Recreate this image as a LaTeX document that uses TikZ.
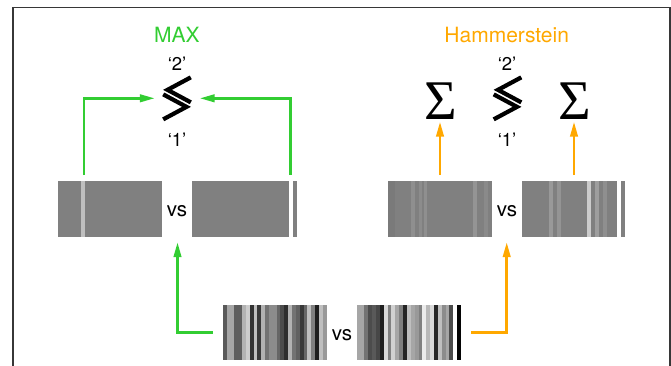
\documentclass[tikz,border=0pt]{standalone}
\usepackage{fontspec}
\setmainfont{TeX Gyre Heros}
\newfontfamily\sigmafont{Liberation Serif}
\usetikzlibrary{arrows.meta}

\definecolor{maxgreen}{RGB}{50,205,50}
\definecolor{hamorange}{RGB}{255,168,0}
\definecolor{framegray}{RGB}{55,55,55}

% Barcode strip: #1 left, #2 top, #3 height, #4 unit width, #5 list of black-percent/units
\newcommand\barcode[5]{%
  \pgfmathsetmacro\bcx{#1}%
  \foreach \k/\u in {#5}{%
    \pgfmathsetmacro\bcn{\bcx+\u*#4}%
    \fill[black!\k] (\bcx,#2) rectangle (\bcn,#2+#3);%
    \global\let\bcx\bcn
  }%
}

\begin{document}
\begin{tikzpicture}[x=1pt,y=-1pt,
  title/.style={inner sep=0pt, anchor=base, font=\fontsize{21}{25}\selectfont},
  quote/.style={inner sep=0pt, anchor=base, font=\fontsize{18.5}{22}\selectfont},
  vslbl/.style={inner sep=0pt, anchor=base, font=\fontsize{20.5}{24}\selectfont},
  sigma/.style={inner sep=0pt, anchor=base, font=\sigmafont\fontsize{56}{60}\selectfont},
  slot/.style={inner sep=0pt, minimum width=#1},
  cmpbox/.style={inner sep=0pt, minimum width=29pt, minimum height=47pt},
  conn/.style={line width=2.6pt, line join=miter,
    -{Triangle[length=15pt,width=7.5pt]}},
  gconn/.style={conn, draw=maxgreen},
  oconn/.style={conn, draw=hamorange},
  lessgtr/.pic={
    \draw[line width=4.2pt, line join=miter, miter limit=10]
      (13.8,-20.95) -- (-9.5,-8.45) -- (13.8,4.05);
    \draw[line width=4.2pt, line join=miter, miter limit=10]
      (-13.8,-3.95) -- (9.5,8.55) -- (-13.8,21.05);
  }]
\useasboundingbox (0,0) rectangle (671,365);

% frame
\draw[framegray, line width=1.3pt, line join=miter]
  (13,367) -- (13,7.5) -- (670,7.5) -- (670,367);

% ---------- MAX branch ----------
\node[title, text=maxgreen] (maxlbl) at (177,42.7) {MAX};
\node[quote] (twoL) at (177,70) {‘2’};
\node[cmpbox] (cmpL) at (177,98.3) {};
\pic at (cmpL) {lessgtr};
\node[quote] (oneL) at (177,146) {‘1’};

% max-pooled pair
\node[slot=239pt, minimum height=56pt] (pL) at (177.5,209) {};
\fill[black!50] (58,181) rectangle (162,237);
\fill[black!25] (81,181) rectangle (85,237);
\fill[black!50] (192,181) rectangle (289,237);
\fill[black!50] (293,181) rectangle (296.7,237);
\node[vslbl] (vsL) at (177,216.7) {vs};

\coordinate (gA) at (84,175);
\coordinate (gB) at (290.5,175);
\draw[gconn, shorten >=7.5pt] (gA) |- (cmpL.west);
\draw[gconn, shorten >=8pt] (gB) |- (cmpL.east);

% ---------- Hammerstein branch ----------
\node[title, text=hamorange] (hamlbl) at (506.7,42.7) {Hammerstein};
\node[quote] (twoR) at (507,70) {‘2’};
\node[cmpbox] (cmpR) at (507.5,98.3) {};
\pic at (cmpR) {lessgtr};
\node[quote] (oneR) at (507,146) {‘1’};
\node[sigma] (sigL) at (440.5,119) {Σ};
\node[sigma] (sigR) at (574.4,119) {Σ};

% summed pair
\node[slot=238pt, minimum height=56pt] (pR) at (506.7,209) {};
\fill[black!50] (387.7,181) rectangle (491.7,237);
\fill[black!52] (387.7,181) rectangle (395,237);
\fill[black!44] (411,181) rectangle (415,237);
\fill[black!45] (419,181) rectangle (421.7,237);
\fill[black!44] (424.3,181) rectangle (427,237);
\fill[black!42] (473.3,181) rectangle (477,237);
\fill[black!46] (484,181) rectangle (487.7,237);
\fill[black!50] (522,181) rectangle (617.3,237);
\fill[black!40] (548.7,181) rectangle (552.7,237);
\fill[black!42] (556.7,181) rectangle (560.7,237);
\fill[black!20] (586.7,181) rectangle (590.7,237);
\fill[black!38] (594.7,181) rectangle (598.7,237);
\fill[black!44] (602.7,181) rectangle (606.7,237);
\fill[black!50] (621.3,181) rectangle (624.7,237);
\node[vslbl] (vsR) at (507,216.7) {vs};

\coordinate (oA) at (440,175);
\coordinate (oB) at (574,175);
\draw[oconn, shorten >=2.5pt] (oA) -- (oA |- sigL.south);
\draw[oconn, shorten >=2.5pt] (oB) -- (oB |- sigR.south);

% ---------- raw input pair ----------
\node[slot=238.3pt, minimum height=55pt] (pB) at (341.85,332.5) {};
\barcode{222.7}{305}{55}{3.852}{65/1,35/2,63/2,30/1,20/1,80/1,25/1,78/1,30/1,55/1,45/2,60/1,70/1,82/1,30/1,55/1,62/1,78/1,60/1,25/1,50/1,88/1,25/1,40/1}
\barcode{356.7}{305}{55}{3.865}{35/2,55/1,70/1,65/1,72/1,88/1,15/1,50/1,18/1,35/1,50/1,85/1,25/1,35/1,40/1,50/1,8/1,28/1,15/1,85/1,25/1,45/1,35/1,70/1}
\fill[black!98] (457,305) rectangle (461,360);
\node[vslbl] (vsB) at (342,340.7) {vs};

\draw[gconn, shorten <=10pt, shorten >=5pt] (pB.west) -| (pL.south);
\draw[oconn, shorten <=10pt, shorten >=5pt] (pB.east) -| (pR.south);
\end{tikzpicture}
\end{document}
